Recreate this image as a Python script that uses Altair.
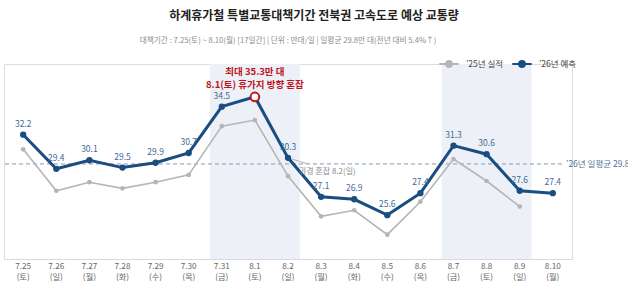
import altair as alt
import pandas as pd

FONT = "Noto Sans CJK KR"

dates = ["7.25", "7.26", "7.27", "7.28", "7.29", "7.30", "7.31", "8.1", "8.2",
         "8.3", "8.4", "8.5", "8.6", "8.7", "8.8", "8.9", "8.10"]
weekdays = ["토", "일", "월", "화", "수", "목", "금", "토", "일",
            "월", "화", "수", "목", "금", "토", "일", "월"]
forecast_26 = [32.2, 29.4, 30.1, 29.5, 29.9, 30.7, 34.5, 35.3, 30.3,
               27.1, 26.9, 25.6, 27.4, 31.3, 30.6, 27.6, 27.4]
actual_25 = [31.0, 27.6, 28.3, 27.8, 28.3, 28.9, 32.9, 33.4, 28.8,
             25.5, 26.0, 24.0, 26.7, 30.2, 28.4, 26.3, None]
series_names = ["’25년 실적", "’26년 예측"]
series_colors = ["#b5b5b5", "#1a4d80"]

daily_avg = 29.8
peak_index = 7          # 8.1(토)
return_index = 8        # 8.2(일)
band_starts = [6, 13]   # 7.31, 8.7
band_ends = [8, 15]     # 8.2, 8.9

rows = []
for i, d in enumerate(dates):
    if actual_25[i] is not None:
        rows.append({"i": i, "date": d, "series": series_names[0], "value": actual_25[i]})
for i, d in enumerate(dates):
    rows.append({"i": i, "date": d, "series": series_names[1], "value": forecast_26[i]})
df = pd.DataFrame(rows)
df26 = pd.DataFrame({"i": list(range(len(dates))), "value": forecast_26})
ticks = pd.DataFrame({"i": list(range(len(dates))), "date": dates,
                      "day": [f"({w})" for w in weekdays]})
bands = pd.DataFrame({"start": band_starts, "end": band_ends})

W, H = 568, 195
xdom = [-0.58, len(dates) - 1 + 0.58]
x_scale = alt.Scale(domain=xdom, nice=False, zero=False)
y_scale = alt.Scale(domain=[22, 38], nice=False, zero=False)

# x axis keeps only its baseline; the two-line date labels are drawn below it
x_axis = alt.Axis(labels=False, title=None, grid=False, ticks=False,
                  domainColor="#d3dae2", domainWidth=1)

bands_layer = alt.Chart(bands).transform_calculate(
    x0="datum.start - 0.36", x1="datum.end + 0.36"
).mark_rect(color="#edf1f7").encode(
    x=alt.X("x0:Q", scale=x_scale, axis=x_axis),
    x2="x1:Q",
)

date_labels = alt.Chart(ticks).mark_text(
    font=FONT, fontSize=8.2, color="#666666", baseline="middle"
).encode(x=alt.X("i:Q", scale=x_scale), y=alt.value(H + 8), text="date:N")
day_labels = alt.Chart(ticks).mark_text(
    font=FONT, fontSize=8.2, color="#666666", baseline="middle"
).encode(x=alt.X("i:Q", scale=x_scale), y=alt.value(H + 18.5), text="day:N")

avg_rule = alt.Chart(pd.DataFrame({"v": [daily_avg]})).mark_rule(
    color="#7f9cb9", strokeDash=[4, 3], strokeWidth=1
).encode(
    y=alt.Y("v:Q", scale=y_scale, axis=None),
    x=alt.datum(-0.55, scale=x_scale),
    x2=alt.datum(len(dates) - 1 + 0.35),
)
avg_label = alt.Chart(pd.DataFrame({"v": [daily_avg]})).mark_text(
    align="left", baseline="middle", font=FONT, fontSize=8.5, color="#4f7494"
).encode(
    y=alt.Y("v:Q", scale=y_scale),
    x=alt.datum(len(dates) - 1 + 0.4, scale=x_scale),
    text=alt.value(f"’26년 일평균 {daily_avg}"),
)

color = alt.Color("series:N", scale=alt.Scale(domain=series_names, range=series_colors),
                  legend=alt.Legend(
                      title=None, orient="none", direction="horizontal",
                      legendX=434, legendY=-11,
                      symbolType="M-1,0L1,0M-0.3,0A0.3,0.3 0 1,1 0.3,0A0.3,0.3 0 1,1 -0.3,0",
                      symbolSize=380, symbolStrokeWidth=2,
                      labelFont=FONT, labelFontSize=8.5, labelColor="#444444",
                      columnPadding=4, labelOffset=6))

is_26 = f"datum.series == '{series_names[1]}'"

lines = alt.Chart(df).mark_line().encode(
    x=alt.X("i:Q", scale=x_scale),
    y=alt.Y("value:Q", scale=y_scale),
    color=color,
    strokeWidth=alt.condition(is_26, alt.value(3), alt.value(1.6)),
    order="i:Q",
)
points = alt.Chart(df).mark_circle(opacity=1).encode(
    x=alt.X("i:Q", scale=x_scale),
    y=alt.Y("value:Q", scale=y_scale),
    color=color,
    size=alt.condition(is_26, alt.value(40), alt.value(22)),
)

value_labels = alt.Chart(df26).transform_filter(f"datum.i != {peak_index}").mark_text(
    dy=-11, font=FONT, fontSize=8.5, color="#3f6b95"
).encode(
    x=alt.X("i:Q", scale=x_scale),
    y=alt.Y("value:Q", scale=y_scale),
    text=alt.Text("value:Q", format=".1f"),
)

peak = df26[df26.i == peak_index]
peak_marker = alt.Chart(peak).mark_point(
    shape="circle", filled=True, fill="white", stroke="#c0121b", strokeWidth=2, size=75, opacity=1
).encode(x=alt.X("i:Q", scale=x_scale), y=alt.Y("value:Q", scale=y_scale))
peak_line1 = alt.Chart(peak).mark_text(
    dy=-25, font=FONT, fontSize=9.5, fontWeight="bold", color="#c0121b"
).encode(x=alt.X("i:Q", scale=x_scale), y=alt.Y("value:Q", scale=y_scale),
         text=alt.value(f"최대 {forecast_26[peak_index]}만 대"))
peak_line2 = alt.Chart(peak).mark_text(
    dy=-12, font=FONT, fontSize=9.5, fontWeight="bold", color="#c0121b"
).encode(x=alt.X("i:Q", scale=x_scale), y=alt.Y("value:Q", scale=y_scale),
         text=alt.value("8.1(토) 휴가지 방향 혼잡"))

ret = pd.DataFrame({"i": [return_index], "value": [forecast_26[return_index]],
                    "i2": [return_index + 0.6], "v2": [daily_avg]})
return_leader = alt.Chart(ret).mark_rule(color="#b5b5b5", strokeWidth=1).encode(
    x=alt.X("i:Q", scale=x_scale), y=alt.Y("value:Q", scale=y_scale),
    x2="i2:Q", y2="v2:Q")
return_text = alt.Chart(ret).mark_text(
    align="left", baseline="middle", dx=-9, dy=8, font=FONT, fontSize=8, color="#8a8a8a"
).encode(x=alt.X("i2:Q", scale=x_scale), y=alt.Y("v2:Q", scale=y_scale),
         text=alt.value("귀경 혼잡 8.2(일)"))

subtitle = alt.Chart(pd.DataFrame({"t": [0]})).mark_text(
    font=FONT, fontSize=7.7, color="#8c8c8c", baseline="middle"
).encode(
    x=alt.value(W / 2), y=alt.value(-23),
    text=alt.value("대책기간 : 7.25(토) ~ 8.10(월) [17일간]  |  단위 : 만대/일  |  일평균 29.8만 대(전년 대비 5.4%↑)"),
)

chart = alt.layer(
    bands_layer, avg_rule, avg_label, return_leader, lines, points,
    value_labels, return_text, peak_marker, peak_line1, peak_line2,
    date_labels, day_labels, subtitle,
).properties(
    width=W, height=H,
    title=alt.TitleParams("하계휴가철 특별교통대책기간 전북권 고속도로 예상 교통량",
                          font=FONT, fontSize=12, fontWeight="bold", color="#222222",
                          anchor="middle", dx=26, offset=14),
    autosize=alt.AutoSizeParams(type="none"),
    padding={"left": 4, "top": 64, "right": 56, "bottom": 23},
).configure_view(stroke=None).configure(background="white")

chart.save("out.html", embed_options={"renderer": "svg", "actions": False})
